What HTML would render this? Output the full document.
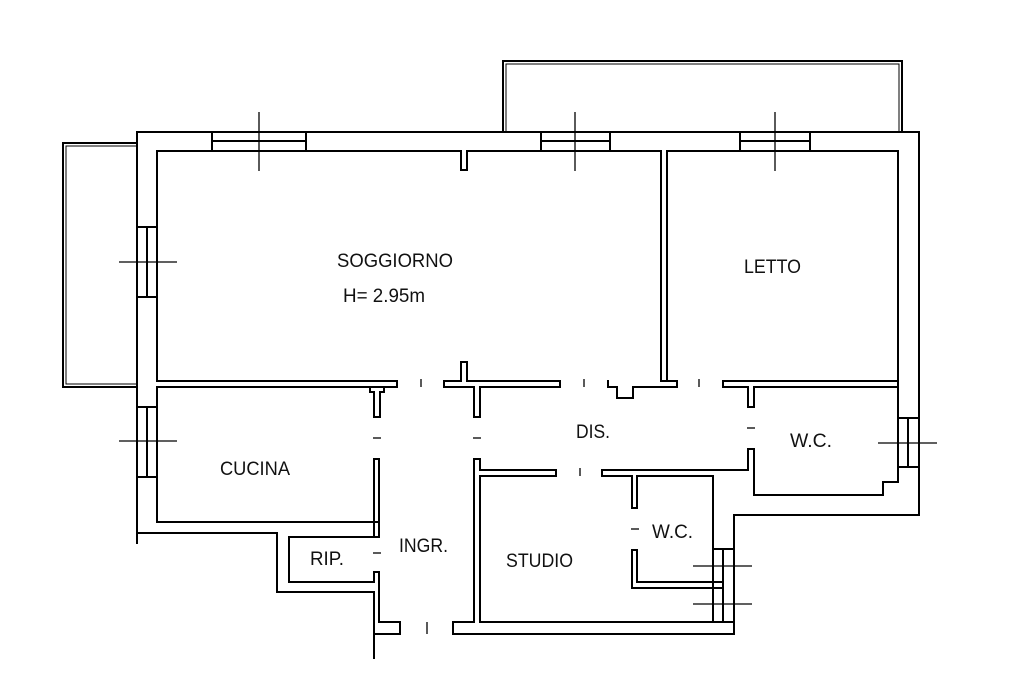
<!DOCTYPE html>
<html><head><meta charset="utf-8"><style>
html,body{margin:0;padding:0;background:#fff;}
svg{display:block}
text{font-family:"Liberation Sans",sans-serif;font-size:19px;fill:#111}
</style></head><body>
<svg width="1024" height="682" viewBox="0 0 1024 682" xmlns="http://www.w3.org/2000/svg">
<g stroke="#000" stroke-width="2" fill="none" stroke-linecap="square">
<polyline points="137,143 63,143 63,387 137,387"/>
<polyline points="137,146 66,146 66,384 137,384" stroke-width="1"/>
<polyline points="503,132 503,61 902,61 902,132"/>
<polyline points="506,132 506,64 899,64 899,132" stroke-width="1"/>
<polyline points="137,543 137,132 919,132 919,515 734,515 734,634 453,634"/>
<polyline points="137,533 277,533 277,592 374,592 374,658"/>
<polyline points="461,151 157,151 157,381 397,381"/>
<polyline points="467,151 661,151 661,381"/>
<polyline points="461,151 461,170 467,170 467,151"/>
<polyline points="444,381 444,387 474,387 474,417 480,417 480,387 560,387 560,381 467,381 467,362 461,362 461,381 444,381"/>
<polyline points="667,381 667,151 898,151 898,381 723,381"/>
<polyline points="608,381 608,387 617,387 617,398 633,398 633,387 677,387 677,381 667,381"/>
<line x1="661" y1="381" x2="667" y2="381"/>
<polyline points="397,381 397,387 157,387 157,522 374,522"/>
<polyline points="397,387 384,387 384,392 380,392 380,417 374,417 374,392 370,392 370,387"/>
<polyline points="374,459 374,537 289,537 289,582 374,582 374,572 379,572 379,622 400,622 400,634 374,634"/>
<polyline points="374,459 379,459 379,537 374,537"/>
<line x1="374" y1="522" x2="379" y2="522"/>
<polyline points="453,634 453,622 474,622 474,459 480,459 480,470 556,470 556,476 480,476 480,622 713,622"/>
<polyline points="602,470 602,476 632,476 632,508 637,508 637,476 713,476 713,622"/>
<polyline points="602,470 748,470 748,449 754,449 754,495 883,495 883,482 898,482 898,387 754,387 754,407 748,407 748,387 723,387 723,381"/>
<polyline points="898,381 898,387"/>
<polyline points="632,550 637,550 637,582 723,582 723,588 632,588 632,550"/>
<rect x="212" y="132" width="94" height="19"/><line x1="212" y1="141" x2="306" y2="141"/>
<rect x="541" y="132" width="69" height="19"/><line x1="541" y1="141" x2="610" y2="141"/>
<rect x="740" y="132" width="70" height="19"/><line x1="740" y1="141" x2="810" y2="141"/>
<rect x="137" y="227" width="20" height="70"/><line x1="147" y1="227" x2="147" y2="297"/>
<rect x="137" y="407" width="20" height="70"/><line x1="147" y1="407" x2="147" y2="477"/>
<rect x="898" y="418" width="21" height="49"/><line x1="908" y1="418" x2="908" y2="467"/>
<rect x="713" y="549" width="21" height="73"/><line x1="723" y1="549" x2="723" y2="622"/>
</g>
<g stroke="#000" stroke-width="1.3">
<line x1="259" y1="112" x2="259" y2="171"/>
<line x1="575" y1="112" x2="575" y2="171"/>
<line x1="775" y1="112" x2="775" y2="171"/>
<line x1="119" y1="262" x2="177" y2="262"/>
<line x1="119" y1="441" x2="177" y2="441"/>
<line x1="878" y1="443" x2="937" y2="443"/>
<line x1="693" y1="566" x2="752" y2="566"/>
<line x1="693" y1="604" x2="752" y2="604"/>
<line x1="421" y1="379" x2="421" y2="387"/>
<line x1="584" y1="379" x2="584" y2="387"/>
<line x1="699" y1="379" x2="699" y2="387"/>
<line x1="373" y1="438" x2="381" y2="438"/>
<line x1="473" y1="438" x2="481" y2="438"/>
<line x1="580" y1="468" x2="580" y2="476"/>
<line x1="747" y1="428" x2="755" y2="428"/>
<line x1="373" y1="553" x2="381" y2="553"/>
<line x1="631" y1="529" x2="639" y2="529"/>
<line x1="427" y1="622" x2="427" y2="634"/>
</g>
<text x="337" y="267" textLength="116" lengthAdjust="spacingAndGlyphs">SOGGIORNO</text>
<text x="343" y="302" textLength="82" lengthAdjust="spacingAndGlyphs">H= 2.95m</text>
<text x="744" y="273" textLength="57" lengthAdjust="spacingAndGlyphs">LETTO</text>
<text x="220" y="475" textLength="70" lengthAdjust="spacingAndGlyphs">CUCINA</text>
<text x="576" y="438" textLength="34" lengthAdjust="spacingAndGlyphs">DIS.</text>
<text x="790" y="447" textLength="42" lengthAdjust="spacingAndGlyphs">W.C.</text>
<text x="399" y="552" textLength="49" lengthAdjust="spacingAndGlyphs">INGR.</text>
<text x="310" y="565" textLength="34" lengthAdjust="spacingAndGlyphs">RIP.</text>
<text x="506" y="567" textLength="67" lengthAdjust="spacingAndGlyphs">STUDIO</text>
<text x="652" y="538" textLength="41" lengthAdjust="spacingAndGlyphs">W.C.</text>
</svg>
</body></html>
